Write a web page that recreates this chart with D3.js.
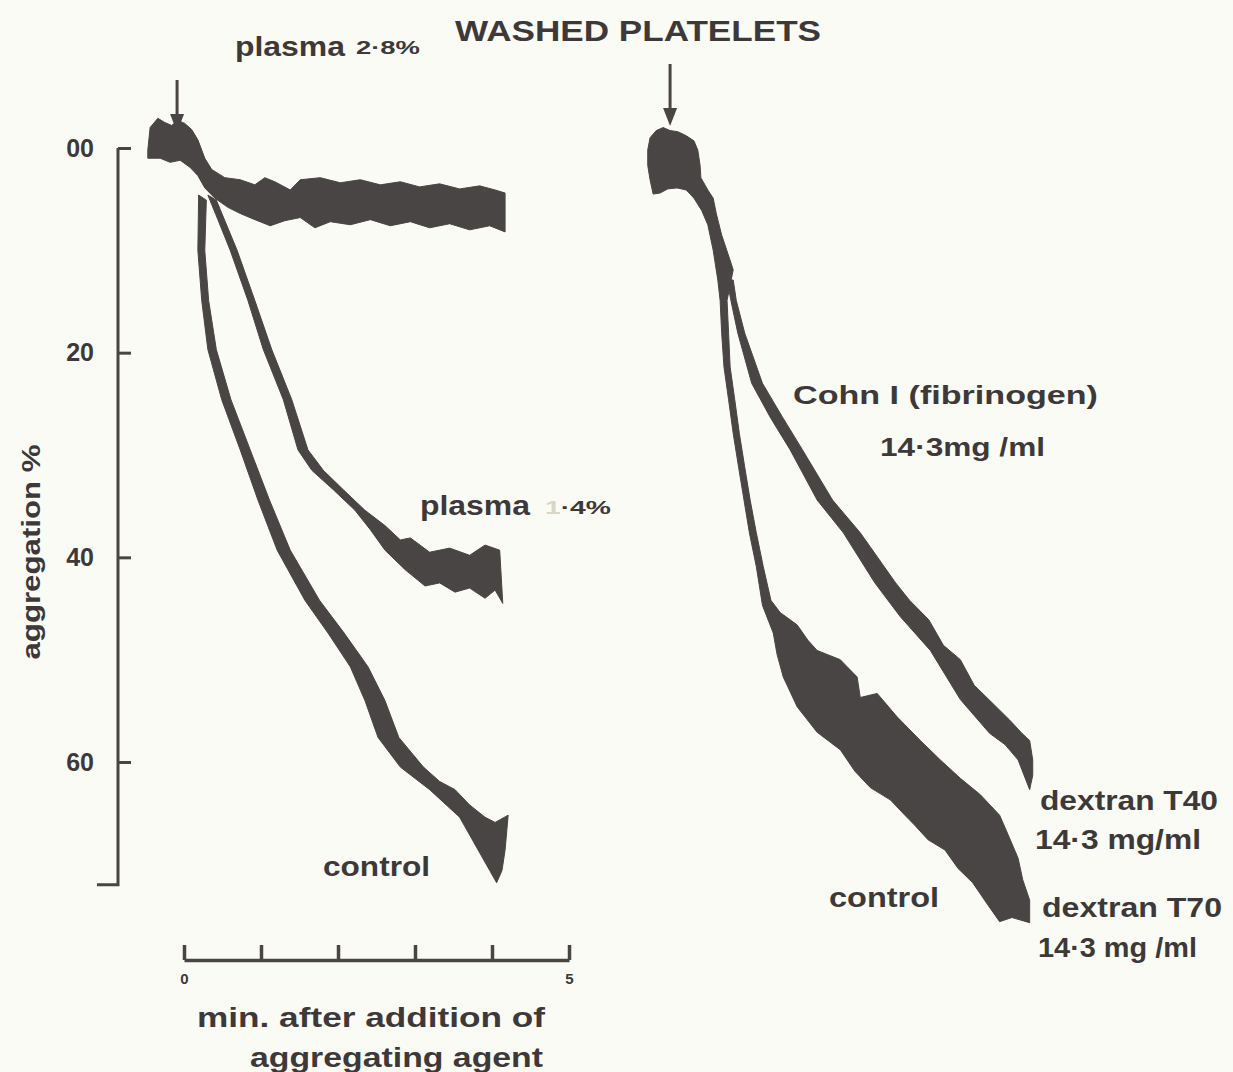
<!DOCTYPE html>
<html>
<head>
<meta charset="utf-8">
<script src="https://cdn.jsdelivr.net/npm/d3@7"></script>
<style>
  body { margin: 0; background: #fbfbf6; }
  svg { display: block; }
  text { font-family: "Liberation Sans", Arial, sans-serif; font-weight: bold; fill: #3e3939; }
</style>
</head>
<body>
<div id="chart"></div>
<script>
// traces as [minutes, aggregation %] along both edges of the ink band

// left panel, plasma 2.8 %
let plasma28Top = [[-0.47, 0.2], [-0.44, -2.0], [-0.34, -2.9], [-0.25, -2.5], [-0.16, -2.2], [-0.08, -2.7],
    [0.01, -2.4], [0.10, -1.8], [0.18, -0.8], [0.27, 1.0], [0.36, 2.1], [0.53, 2.9], [0.73, 3.1],
    [0.92, 3.6], [1.05, 2.9], [1.18, 3.3], [1.38, 4.1], [1.51, 3.1], [1.77, 2.9], [2.03, 3.4],
    [2.29, 3.1], [2.55, 3.6], [2.81, 3.3], [3.06, 3.8], [3.32, 3.5], [3.58, 4.0], [3.84, 3.7],
    [4.04, 4.1], [4.17, 4.4]]
let plasma28Bottom = [[-0.47, 1.0], [-0.31, 1.0], [-0.18, 1.4], [-0.05, 1.2], [0.08, 1.9], [0.18, 2.7],
    [0.27, 3.9], [0.40, 4.9], [0.57, 5.8], [0.73, 6.4], [0.92, 7.0], [1.12, 7.6], [1.31, 7.1],
    [1.51, 6.8], [1.70, 7.8], [1.90, 7.2], [2.16, 7.5], [2.42, 7.0], [2.68, 7.6], [2.94, 7.2],
    [3.19, 7.8], [3.45, 7.4], [3.71, 8.0], [3.97, 7.6], [4.17, 8.2]]

// left panel, plasma 1.4 % (lower-left edge, then upper-right edge)
let plasma14Lower = [[0.31, 4.6], [0.44, 7.0], [0.60, 10.0], [0.83, 14.9], [1.03, 19.7], [1.29, 24.6],
    [1.48, 29.5], [1.66, 31.5], [1.94, 33.4], [2.22, 35.4], [2.42, 37.3], [2.61, 39.3], [2.87, 41.2],
    [3.13, 42.8], [3.32, 42.5], [3.52, 43.4], [3.71, 43.0], [3.91, 44.0], [4.04, 43.2], [4.14, 44.5]]
let plasma14Upper = [[0.42, 5.1], [0.69, 10.0], [0.92, 14.9], [1.14, 19.7], [1.40, 24.6], [1.61, 29.5],
    [1.81, 31.5], [2.07, 33.4], [2.35, 35.4], [2.61, 36.9], [2.81, 38.3], [2.94, 38.1], [3.19, 39.5],
    [3.45, 39.1], [3.71, 39.8], [3.91, 38.8], [4.10, 39.3]]

// left panel, control
let controlLeftA = [[0.19, 4.6], [0.18, 10.0], [0.23, 14.9], [0.31, 19.7], [0.49, 24.6], [0.73, 29.5],
    [0.96, 34.4], [1.21, 39.3], [1.57, 44.2], [1.87, 47.4], [2.16, 50.7], [2.35, 54.0], [2.52, 57.6],
    [2.81, 60.5], [3.19, 62.7], [3.58, 65.4], [3.82, 68.6], [3.97, 70.6], [4.06, 71.8]]
let controlLeftB = [[0.29, 5.1], [0.27, 10.0], [0.32, 14.9], [0.42, 19.7], [0.61, 24.6], [0.86, 29.5],
    [1.11, 34.4], [1.38, 39.3], [1.76, 44.2], [2.08, 47.4], [2.39, 50.7], [2.61, 54.0], [2.79, 57.6],
    [3.11, 60.5], [3.32, 61.9], [3.52, 62.7], [3.71, 64.2], [3.91, 65.4], [4.04, 65.9], [4.21, 65.2],
    [4.17, 68.6], [4.13, 70.6]]

// right panel, control / dextran T40 / dextran T70 (one merged band), including the start blob
let controlRightA = [[-0.38, 0.2], [-0.35, -1.0], [-0.27, -1.7], [-0.18, -2.0], [-0.09, -1.7], [0.01, -1.6],
    [0.12, -1.2], [0.22, -0.7], [0.27, 0.2], [0.30, 1.7], [0.31, 2.9], [0.40, 4.1], [0.47, 4.9],
    [0.51, 6.4], [0.58, 8.5], [0.66, 10.3], [0.73, 11.9], [0.69, 13.4], [0.65, 14.9], [0.67, 18.1],
    [0.69, 21.4], [0.75, 24.6], [0.81, 27.9], [0.88, 31.2], [0.95, 34.4], [1.03, 37.6], [1.12, 40.9],
    [1.22, 44.2], [1.34, 45.4], [1.56, 46.6], [1.70, 48.1], [1.82, 49.1], [2.12, 50.0], [2.34, 51.7],
    [2.38, 53.7], [2.60, 53.3], [2.86, 55.6], [3.16, 57.9], [3.42, 59.8], [3.68, 61.6], [3.94, 63.2],
    [4.19, 65.2], [4.30, 67.1], [4.43, 69.4], [4.49, 71.5], [4.58, 73.5], [4.58, 75.7], [4.35, 75.2],
    [4.19, 75.6]]
let controlRightB = [[-0.38, 1.7], [-0.35, 3.1], [-0.31, 4.5], [-0.22, 4.4], [-0.12, 4.0], [0.00, 3.9],
    [0.12, 4.1], [0.22, 4.9], [0.32, 6.1], [0.40, 7.5], [0.47, 10.0], [0.53, 12.9], [0.56, 14.9],
    [0.58, 18.1], [0.61, 21.4], [0.67, 24.6], [0.73, 27.9], [0.80, 31.2], [0.87, 34.4], [0.94, 37.6],
    [1.03, 40.9], [1.11, 44.7], [1.25, 47.4], [1.30, 49.5], [1.38, 51.7], [1.43, 52.5], [1.56, 54.6],
    [1.82, 57.1], [2.12, 58.8], [2.31, 60.9], [2.51, 62.5], [2.77, 63.7], [2.96, 65.2], [3.09, 66.2],
    [3.26, 67.6], [3.48, 68.6], [3.65, 70.4], [3.84, 71.8], [4.04, 74.0]]

// right panel, Cohn I (fibrinogen)
let cohnLeft = [[0.65, 12.9], [0.70, 14.9], [0.79, 18.1], [0.97, 23.0], [1.21, 26.3], [1.47, 29.5],
    [1.82, 34.4], [2.16, 37.6], [2.57, 42.5], [2.90, 45.8], [3.29, 49.1], [3.68, 53.9], [4.06, 57.2],
    [4.26, 58.3], [4.43, 59.8], [4.58, 62.7]]
let cohnRight = [[0.73, 12.9], [0.77, 14.9], [0.88, 18.1], [1.11, 23.0], [1.37, 26.3], [1.63, 29.5],
    [2.02, 34.4], [2.38, 37.6], [2.84, 42.5], [3.02, 44.2], [3.27, 46.1], [3.46, 48.6], [3.68, 50.0],
    [3.86, 52.5], [4.05, 53.9], [4.32, 55.9], [4.48, 57.2], [4.58, 57.9], [4.62, 59.8], [4.62, 61.3]]

let yTicks = [0, 20, 40, 60]
let yTickLabels = ['00', '20', '40', '60']
let timeTicks = [0, 1, 2, 3, 4, 5]
let timeTickLabels = ['0', '', '', '', '', '5']
let additionTime = -0.09

let width = 1233
let height = 1072
let ink = '#4a4545'

let svg = d3.select('#chart').append('svg')
    .attr('width', width)
    .attr('height', height)

let yScale = d3.scaleLinear().domain([0, 60]).range([148, 762])
let xLeft = d3.scaleLinear().domain([0, 5]).range([184, 569])
let xRight = d3.scaleLinear().domain([0, 5]).range([677, 1062])

function band(xScale, edgeA, edgeB) {
    let pts = edgeA.concat(edgeB.slice().reverse())
    return d3.line()
        .x(d => xScale(d[0]))
        .y(d => yScale(d[1]))
        .curve(d3.curveLinearClosed)(pts)
}

let traces = [
    [xLeft, plasma28Top, plasma28Bottom],
    [xLeft, plasma14Lower, plasma14Upper],
    [xLeft, controlLeftA, controlLeftB],
    [xRight, controlRightA, controlRightB],
    [xRight, cohnLeft, cohnRight]
]

svg.append('g')
    .selectAll('path')
    .data(traces)
    .join('path')
    .attr('d', d => band(d[0], d[1], d[2]))
    .attr('fill', ink)
    .attr('stroke', ink)
    .attr('stroke-width', 1)
    .attr('stroke-linejoin', 'round')

// y axis, bracket style
let yAxis = svg.append('g')
    .attr('transform', 'translate(118,0)')
    .call(d3.axisLeft(yScale)
        .tickValues(yTicks)
        .tickFormat((d, i) => yTickLabels[i])
        .tickSizeInner(-13)
        .tickSizeOuter(0)
        .tickPadding(24))
yAxis.select('.domain').remove()
yAxis.selectAll('.tick line').attr('stroke', ink).attr('stroke-width', 3)
yAxis.selectAll('.tick text')
    .style('font-size', '25px')
    .attr('fill', '#3e3939')
    .attr('font-family', null)

yAxis.append('path')
    .attr('d', `M0,${yScale(0)}V${yScale(72)}H-21`)
    .attr('fill', 'none')
    .attr('stroke', ink)
    .attr('stroke-width', 3)

svg.append('text')
    .attr('transform', `translate(40,${552}) rotate(-90)`)
    .attr('text-anchor', 'middle')
    .attr('textLength', 215)
    .attr('lengthAdjust', 'spacingAndGlyphs')
    .style('font-size', '26px')
    .text('aggregation %')

// time bar
let tAxis = svg.append('g')
    .attr('transform', 'translate(0,960)')
    .call(d3.axisBottom(xLeft)
        .tickValues(timeTicks)
        .tickFormat((d, i) => timeTickLabels[i])
        .tickSizeInner(-15)
        .tickSizeOuter(0)
        .tickPadding(13))
tAxis.select('.domain').attr('stroke', ink).attr('stroke-width', 3.5)
tAxis.selectAll('.tick line').attr('stroke', ink).attr('stroke-width', 3.5)
tAxis.selectAll('.tick text')
    .style('font-size', '15px')
    .attr('fill', '#3e3939')
    .attr('font-family', null)

// addition arrows
function arrow(x, y0, y1) {
    svg.append('line')
        .attr('x1', x).attr('x2', x)
        .attr('y1', y0).attr('y2', y1 - 14)
        .attr('stroke', ink)
        .attr('stroke-width', 3)
    svg.append('path')
        .attr('d', `M${x - 7},${y1 - 18}L${x + 7},${y1 - 18}L${x},${y1}Z`)
        .attr('fill', ink)
}
arrow(xLeft(additionTime), 80, 132)
arrow(xRight(additionTime), 64, 126)

// labels
function label(txt, x, y, size, len, anchor) {
    return svg.append('text')
        .attr('x', x)
        .attr('y', y)
        .attr('dy', '0.35em')
        .attr('text-anchor', anchor || 'start')
        .attr('textLength', len)
        .attr('lengthAdjust', 'spacingAndGlyphs')
        .style('font-size', size + 'px')
        .text(txt)
}

label('WASHED  PLATELETS', 455, 30, 30, 366).style('font-weight', 900)
label('plasma', 235, 46, 28, 110)
label('2·8%', 356, 47, 19, 64)
label('plasma', 420, 505, 28, 110)

let faint = label('', 545, 507, 19, 66)
faint.append('tspan').style('fill', '#d9d6c8').text('1')
faint.append('tspan').text('·4%')

label('control', 323, 866, 28, 107)

label('Cohn I (fibrinogen)', 793, 395, 26, 305)
label('14·3mg /ml', 880, 447, 25, 165)
label('dextran T40', 1040, 800, 28, 178)
label('14·3 mg/ml', 1035, 839, 28, 166)
label('control', 829, 897, 28, 110)
label('dextran T70', 1042, 907, 28, 180)
label('14·3 mg /ml', 1038, 947, 28, 159)

label('min. after addition of', 545, 1017, 28, 348, 'end')
label('aggregating agent', 543, 1057, 28, 293, 'end')
</script>
</body>
</html>
